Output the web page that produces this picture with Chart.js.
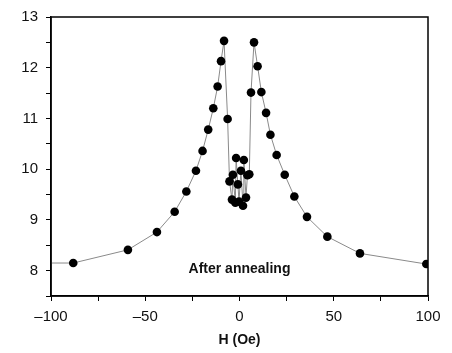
<!DOCTYPE html>
<html>
<head>
<meta charset="utf-8">
<script src="https://cdn.jsdelivr.net/npm/chart.js@4"></script>
<style>
  body { margin: 0; background: #fff; }
  #wrap { width: 452px; height: 353px; }
</style>
</head>
<body>
<div id="wrap"><canvas id="myChart" width="452" height="353"></canvas></div>
<script>
// field values (Oe) and signal
var fieldH = [-100, -88.2, -59.2, -43.8, -34.4, -28.2, -23.1, -19.6, -16.6, -13.9, -11.6, -9.8, -8.2,
              -6.3, -5.3, -4.0, -3.5, -2.2, -1.8, -0.85, -0.26, 0.76, 1.86, 2.3, 3.45, 4.2, 5.2,
              6.1, 7.7, 9.6, 11.6, 14.1, 16.4, 19.7, 24.0, 29.1, 35.8, 46.6, 63.9, 99.1];
var signal = [8.15, 8.15, 8.41, 8.76, 9.16, 9.56, 9.97, 10.36, 10.78, 11.20, 11.63, 12.13, 12.53,
              10.99, 9.76, 9.40, 9.89, 9.34, 10.22, 9.70, 9.36, 9.97, 9.28, 10.18, 9.44, 9.88, 9.90,
              11.51, 12.50, 12.03, 11.52, 11.11, 10.68, 10.28, 9.89, 9.46, 9.06, 8.67, 8.34, 8.13];
var xTicks = [-100, -50, 0, 50, 100];
var yTicks = [8, 9, 10, 11, 12, 13];

var pts = [];
for (let i = 0; i < fieldH.length; i++) {
    pts.push({x: fieldH[i], y: signal[i]});
}

const boxAndLabel = {
    id: 'boxAndLabel',
    afterDraw(chart) {
        const c = chart.ctx, a = chart.chartArea;
        c.save();
        c.strokeStyle = '#000';
        c.lineWidth = 1.5;
        c.strokeRect(a.left, a.top, a.right - a.left, a.bottom - a.top);
        c.fillStyle = '#111';
        c.font = 'bold 14px "Liberation Sans", Arial, sans-serif';
        c.textAlign = 'center';
        c.textBaseline = 'middle';
        c.fillText('After annealing', chart.scales.x.getPixelForValue(0), chart.scales.y.getPixelForValue(8.03));
        c.restore();
    }
};

const ctx = document.getElementById('myChart').getContext('2d');
const myChart = new Chart(ctx, {
    type: 'scatter',
    data: {
        datasets: [{
            data: pts,
            showLine: true,
            borderColor: '#8a8a8a',
            borderWidth: 1,
            backgroundColor: '#000',
            pointBorderColor: '#000',
            pointRadius: function(c) { return c.dataIndex === 0 ? 0 : 4.3; },
            pointBorderWidth: 0
        }]
    },
    options: {
        responsive: false,
        animation: false,
        layout: { padding: { top: 13, right: 24, left: 0, bottom: 0 } },
        plugins: { legend: { display: false }, tooltip: { enabled: false } },
        scales: {
            x: {
                type: 'linear', min: -100, max: 100,
                afterFit: function(s) { s.height = 57; },
                ticks: {
                    stepSize: 25, color: '#111', padding: 7,
                    font: { family: '"Liberation Sans", Arial, sans-serif', size: 15 },
                    callback: function(v) {
                        if (xTicks.indexOf(v) < 0) return '';
                        return v < 0 ? '\u2013' + Math.abs(v) : '' + v;
                    }
                },
                grid: { drawOnChartArea: false, drawTicks: true, tickLength: 5, color: '#000' },
                border: { color: '#000', width: 1.5 },
                title: {
                    display: true, text: 'H (Oe)', color: '#111', padding: { top: 3 },
                    font: { family: '"Liberation Sans", Arial, sans-serif', size: 14, weight: 'bold' }
                }
            },
            y: {
                min: 7.5, max: 13,
                afterFit: function(s) { s.width = 51; },
                ticks: {
                    stepSize: 0.5, color: '#111', padding: 8,
                    font: { family: '"Liberation Sans", Arial, sans-serif', size: 15 },
                    callback: function(v) { return yTicks.indexOf(v) < 0 ? '' : '' + v; }
                },
                grid: { drawOnChartArea: false, drawTicks: true, tickLength: 5, color: '#000' },
                border: { color: '#000', width: 1.5 }
            }
        }
    },
    plugins: [boxAndLabel]
});
</script>
</body>
</html>
